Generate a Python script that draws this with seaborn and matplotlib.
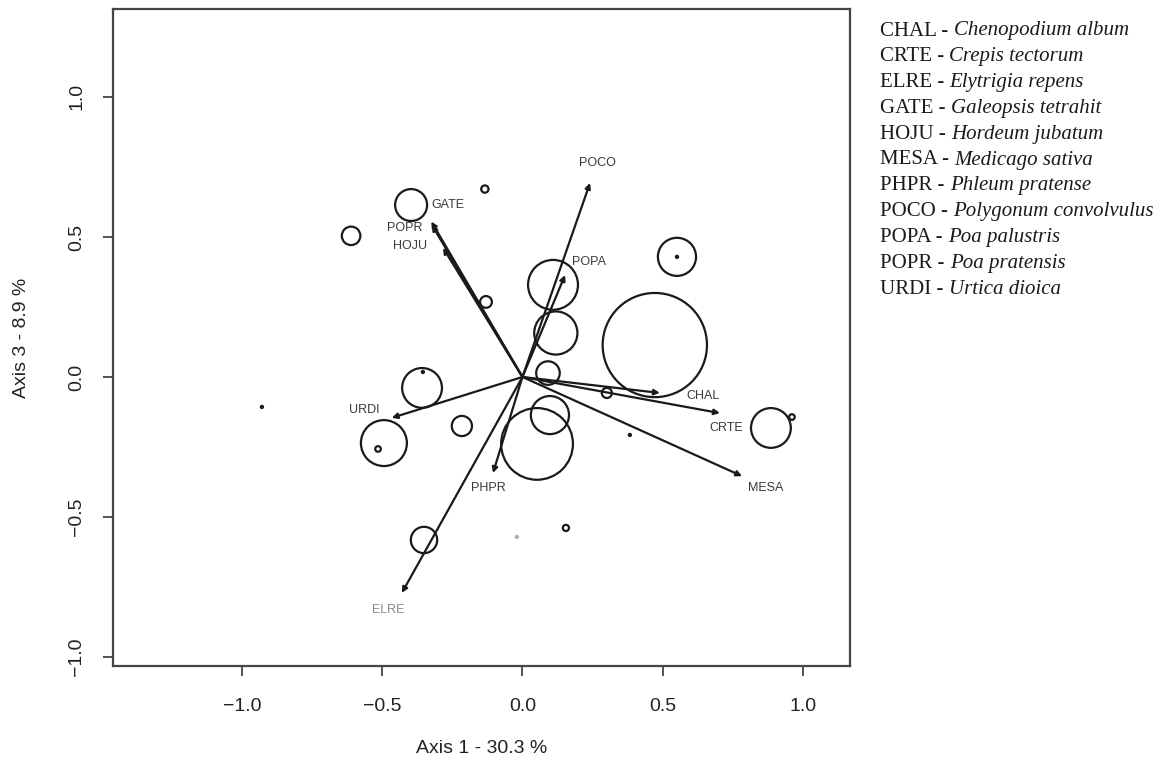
import matplotlib
matplotlib.use("Agg")
import matplotlib.pyplot as plt
from matplotlib.patches import Circle
import seaborn as sns
import pandas as pd

# ---- data -------------------------------------------------------------
# site scores (axis 1, axis 3) and bubble radius (in axis units)
site_x = [0.472, 0.551, 0.109, 0.119, 0.091, 0.098, 0.052, -0.130, -0.216, -0.358,
          -0.494, -0.351, 0.155, 0.886, 0.961, -0.397, -0.611, -0.134, 0.301, -0.515]
site_y = [0.114, 0.429, 0.329, 0.157, 0.014, -0.136, -0.239, 0.268, -0.175, -0.039,
          -0.236, -0.582, -0.539, -0.182, -0.143, 0.614, 0.504, 0.671, -0.057, -0.257]
site_r = [0.186, 0.068, 0.089, 0.077, 0.042, 0.068, 0.128, 0.021, 0.036, 0.071,
          0.082, 0.047, 0.011, 0.071, 0.010, 0.057, 0.033, 0.013, 0.018, 0.010]

# sites with (near) zero abundance, drawn as dots
dot_x = [-0.929, 0.551, -0.355, 0.383, -0.020]
dot_y = [-0.107, 0.429, 0.018, -0.207, -0.571]
dot_shade = ["dark", "dark", "dark", "dark", "light"]

# species vectors
species = ["CHAL", "CRTE", "ELRE", "GATE", "HOJU", "MESA", "PHPR", "POCO", "POPA", "POPR", "URDI"]
sp_x = [0.490, 0.704, -0.430, -0.325, -0.283, 0.783, -0.105, 0.241, 0.152, -0.323, -0.466]
sp_y = [-0.057, -0.129, -0.771, 0.555, 0.461, -0.354, -0.343, 0.693, 0.364, 0.543, -0.146]
lab_x = [0.643, 0.725, -0.479, -0.266, -0.401, 0.867, -0.120, 0.269, 0.237, -0.419, -0.565]
lab_y = [-0.068, -0.182, -0.832, 0.614, 0.468, -0.396, -0.396, 0.764, 0.411, 0.532, -0.118]

species_names = ["Chenopodium album", "Crepis tectorum", "Elytrigia repens",
                 "Galeopsis tetrahit", "Hordeum jubatum", "Medicago sativa",
                 "Phleum pratense", "Polygonum convolvulus", "Poa palustris",
                 "Poa pratensis", "Urtica dioica"]

x_ticks = [-1.0, -0.5, 0.0, 0.5, 1.0]
y_ticks = [-1.0, -0.5, 0.0, 0.5, 1.0]
x_label = "Axis 1 - 30.3 %"
y_label = "Axis 3 - 8.9 %"

# ---- style ------------------------------------------------------------
sns.set_theme(style="white")
plt.rcParams["font.family"] = ["Liberation Sans", "DejaVu Sans"]

fig = plt.figure(figsize=(11.7, 7.73), dpi=100)
ax = fig.add_axes([113 / 1170, 1 - 666 / 773, 737 / 1170, 657 / 773])

ax.set_xlim(-1.46, 1.168)
ax.set_ylim(-1.032, 1.314)

# bubbles
for x, y, r in zip(site_x, site_y, site_r):
    ax.add_patch(Circle((x, y), r, fill=False, edgecolor="#1a1a1a", linewidth=1.6, zorder=2))

# dots
dots = pd.DataFrame({"x": dot_x, "y": dot_y, "shade": dot_shade})
sns.scatterplot(data=dots, x="x", y="y", hue="shade",
                palette={"dark": "#1a1a1a", "light": "#b0b0b0"},
                s=10, linewidth=0, legend=False, ax=ax, zorder=3)

# species arrows
for x, y in zip(sp_x, sp_y):
    ax.annotate("", xy=(x, y), xytext=(0, 0),
                arrowprops=dict(arrowstyle="-|>", color="#1a1a1a", lw=1.6,
                                mutation_scale=8, shrinkA=0, shrinkB=0),
                zorder=4)
for s, x, y in zip(species, lab_x, lab_y):
    ax.text(x, y, s, fontsize=9, ha="center", va="center",
            color="#8a8a8a" if s == "ELRE" else "#3a3a3a", zorder=5)

# axes styling (R-like)
ax.set_xticks(x_ticks)
ax.set_yticks(y_ticks)
ax.set_xticklabels([f"{v:.1f}".replace("-", "\u2212") for v in x_ticks])
ax.set_yticklabels([f"{v:.1f}".replace("-", "\u2212") for v in y_ticks],
                   rotation=90, va="center")
ax.tick_params(axis="both", direction="out", length=7, width=1.2, color="#333333",
               labelsize=14, labelcolor="#222222", bottom=True, left=True)
ax.tick_params(axis="x", pad=16)
ax.tick_params(axis="y", pad=13)
for sp in ax.spines.values():
    sp.set_color("#444444")
    sp.set_linewidth(1.6)

ax.set_xlabel(x_label, fontsize=14, color="#222222")
ax.set_ylabel(y_label, fontsize=14, color="#222222")
ax.xaxis.set_label_coords(0.5, -0.125)
ax.xaxis.label.set_va("center")
ax.yaxis.set_label_coords(-0.1235, 0.5)
ax.yaxis.label.set_va("center")

# legend of species codes (regular) and names (italic)
fig.canvas.draw()
renderer = fig.canvas.get_renderer()
x0 = 880 / 1170
row_h = 25.8
for i, (code, name) in enumerate(zip(species, species_names)):
    ypix = 31 + i * row_h
    yf = 1 - ypix / 773
    t = fig.text(x0, yf, code + " - ", family="Liberation Serif", fontsize=15,
                 color="#1a1a1a", va="center", ha="left")
    bb = t.get_window_extent(renderer)
    fig.text(bb.x1 / fig.bbox.width, yf, name, family="Liberation Serif",
             style="italic", fontsize=15, color="#1a1a1a", va="center", ha="left")

fig.savefig("out.png", dpi=100, facecolor="white")
